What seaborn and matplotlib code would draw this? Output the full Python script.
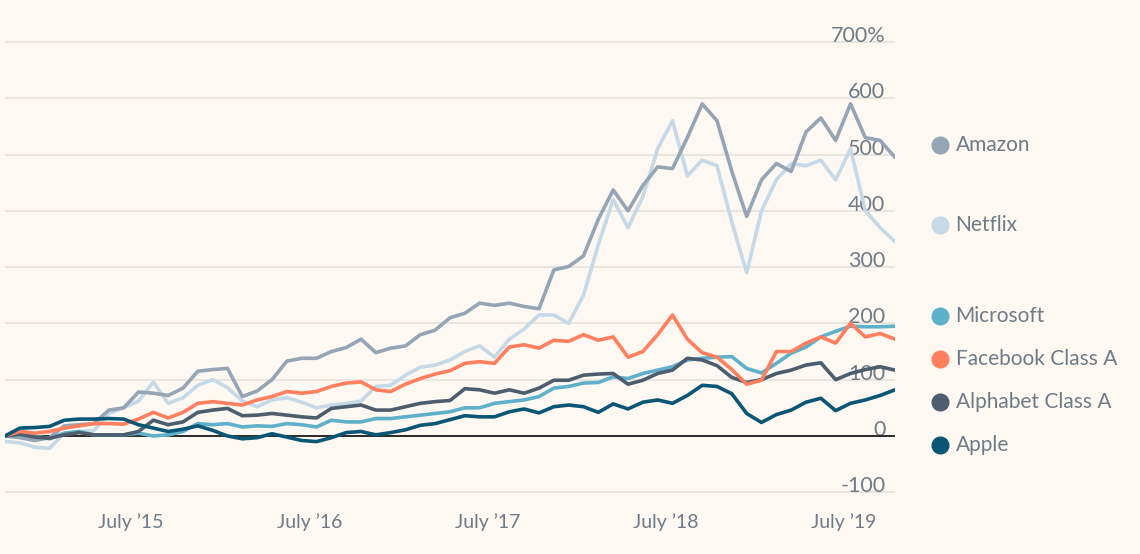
import pandas as pd
import numpy as np
import matplotlib.pyplot as plt
import seaborn as sns

# monthly readings, mid-Oct 2014 .. mid-Oct 2019, % change since start
dates = pd.date_range('2014-10-15', '2019-10-15', periods=61)

amazon = [0, -3, -8, -3, 18, 20, 22, 46, 50, 78, 76,
          72, 85, 115, 118, 120, 70, 80, 100, 133, 138,
          138, 150, 157, 172, 148, 156, 160, 180, 188, 210,
          218, 236, 232, 236, 230, 226, 295, 301, 320, 385,
          437, 400, 445, 478, 475, 530, 590, 560, 470, 390,
          455, 484, 470, 540, 565, 525, 590, 530, 525, 495]
netflix = [-10, -12, -20, -22, 5, 8, 10, 40, 50, 62, 96,
           58, 68, 90, 100, 86, 62, 52, 64, 68, 60,
           50, 55, 58, 62, 88, 90, 108, 122, 126, 135,
           150, 160, 140, 172, 190, 215, 215, 200, 250, 340,
           420, 370, 425, 510, 560, 462, 490, 480, 380, 290,
           400, 455, 484, 480, 490, 455, 510, 400, 370, 345]
microsoft = [0, 2, 0, -5, 5, 8, 2, 2, 2, 5, 0,
             2, 8, 22, 20, 22, 16, 18, 17, 22, 20,
             16, 28, 25, 25, 31, 31, 34, 37, 40, 43,
             50, 50, 58, 61, 64, 70, 85, 88, 94, 95,
             105, 102, 111, 117, 123, 135, 138, 140, 141, 120,
             112, 129, 147, 158, 176, 186, 195, 194, 194, 195]
facebook = [0, 8, 5, 8, 14, 18, 22, 22, 21, 30, 42,
            32, 42, 58, 61, 58, 55, 64, 70, 79, 76,
            79, 88, 94, 96, 82, 79, 92, 102, 110, 116,
            129, 132, 129, 158, 162, 156, 170, 168, 180, 170,
            176, 140, 150, 180, 215, 172, 148, 140, 118, 92,
            99, 150, 150, 165, 176, 165, 200, 176, 182, 172]
alphabet = [0, 3, -2, -4, 2, 6, 2, 2, 2, 8, 28,
            20, 25, 42, 46, 49, 36, 37, 40, 37, 34,
            32, 49, 52, 55, 46, 46, 52, 58, 61, 63,
            84, 82, 76, 82, 76, 85, 99, 99, 108, 110,
            111, 92, 99, 111, 117, 138, 135, 125, 104, 95,
            100, 111, 117, 126, 130, 100, 111, 118, 123, 117]
apple = [0, 14, 15, 17, 28, 30, 30, 31, 30, 20, 14,
         8, 12, 18, 10, 0, -5, -3, 4, -2, -8,
         -10, -3, 6, 8, 2, 6, 11, 19, 22, 29,
         36, 34, 34, 43, 48, 41, 52, 55, 52, 42,
         57, 48, 60, 64, 58, 72, 90, 88, 75, 40,
         24, 38, 46, 60, 67, 45, 58, 64, 72, 82]

names = ['Amazon', 'Netflix', 'Microsoft', 'Facebook Class A',
         'Alphabet Class A', 'Apple']
colors = ['#95a5b5', '#c6d9e6', '#5eb0cb', '#ff7f5e', '#4c5d6e', '#0c5675']
label_y = [517, 375, 213, 137, 60, -16]   # where the legend labels sit
draw_order = ['Netflix', 'Amazon', 'Microsoft', 'Alphabet Class A',
              'Facebook Class A', 'Apple']

yticks = list(range(-100, 800, 100))
ytick_labels = ['-100', '0', '100', '200', '300', '400', '500', '600', '700%']
xtick_years = [2015, 2016, 2017, 2018, 2019]

bg = '#fdf8f2'
text_grey = '#6f7b87'

df = pd.DataFrame({'date': dates, 'Amazon': amazon, 'Netflix': netflix,
                   'Microsoft': microsoft, 'Facebook Class A': facebook,
                   'Alphabet Class A': alphabet, 'Apple': apple})
long_df = df.melt(id_vars='date', var_name='name', value_name='value')

sns.set_style('white')
plt.rcParams['font.family'] = ['Lato', 'DejaVu Sans']

fig = plt.figure(figsize=(11.4, 5.54), dpi=100)
fig.patch.set_facecolor(bg)
ax = fig.add_axes([5 / 1140, (554 - 493.4) / 554, 890 / 1140, 452.6 / 554])
ax.set_facecolor(bg)

palette = dict(zip(names, colors))
sns.lineplot(data=long_df, x='date', y='value', hue='name',
             hue_order=draw_order, palette=palette, linewidth=2.6,
             legend=False, ax=ax, zorder=3)

ax.set_ylim(-102, 702)
ax.set_xlim(dates[0], dates[-1])
ax.axhline(0, color='#1b1b1b', linewidth=1.3, zorder=2)

ax.set_yticks(yticks)
ax.set_yticklabels(ytick_labels)
ax.yaxis.grid(True, color='#e6e3de', linewidth=1.3)
ax.xaxis.grid(False)
ax.tick_params(axis='y', length=0, labelleft=False, labelright=True,
               pad=-7, labelsize=15.5, labelcolor=text_grey)
for lab in ax.get_yticklabels():
    lab.set_horizontalalignment('right')
    lab.set_verticalalignment('baseline')

ax.set_xticks([pd.Timestamp(f'{y}-07-01') for y in xtick_years])
ax.set_xticklabels([f'July \u2019{y % 100:02d}' for y in xtick_years])
ax.tick_params(axis='x', length=0, pad=14, labelsize=14, labelcolor=text_grey)
ax.set_xlabel('')
ax.set_ylabel('')
for s in ax.spines.values():
    s.set_visible(False)

# legend placed beside the line ends
for name, col, ly in zip(names, colors, label_y):
    ax.plot([1.0506], [ly], marker='o', markersize=12, color=col,
            transform=ax.get_yaxis_transform(), clip_on=False)
    ax.text(1.068, ly, name, transform=ax.get_yaxis_transform(),
            va='center', ha='left', fontsize=15, color=text_grey)

fig.savefig('out.png', dpi=100, facecolor=bg)
